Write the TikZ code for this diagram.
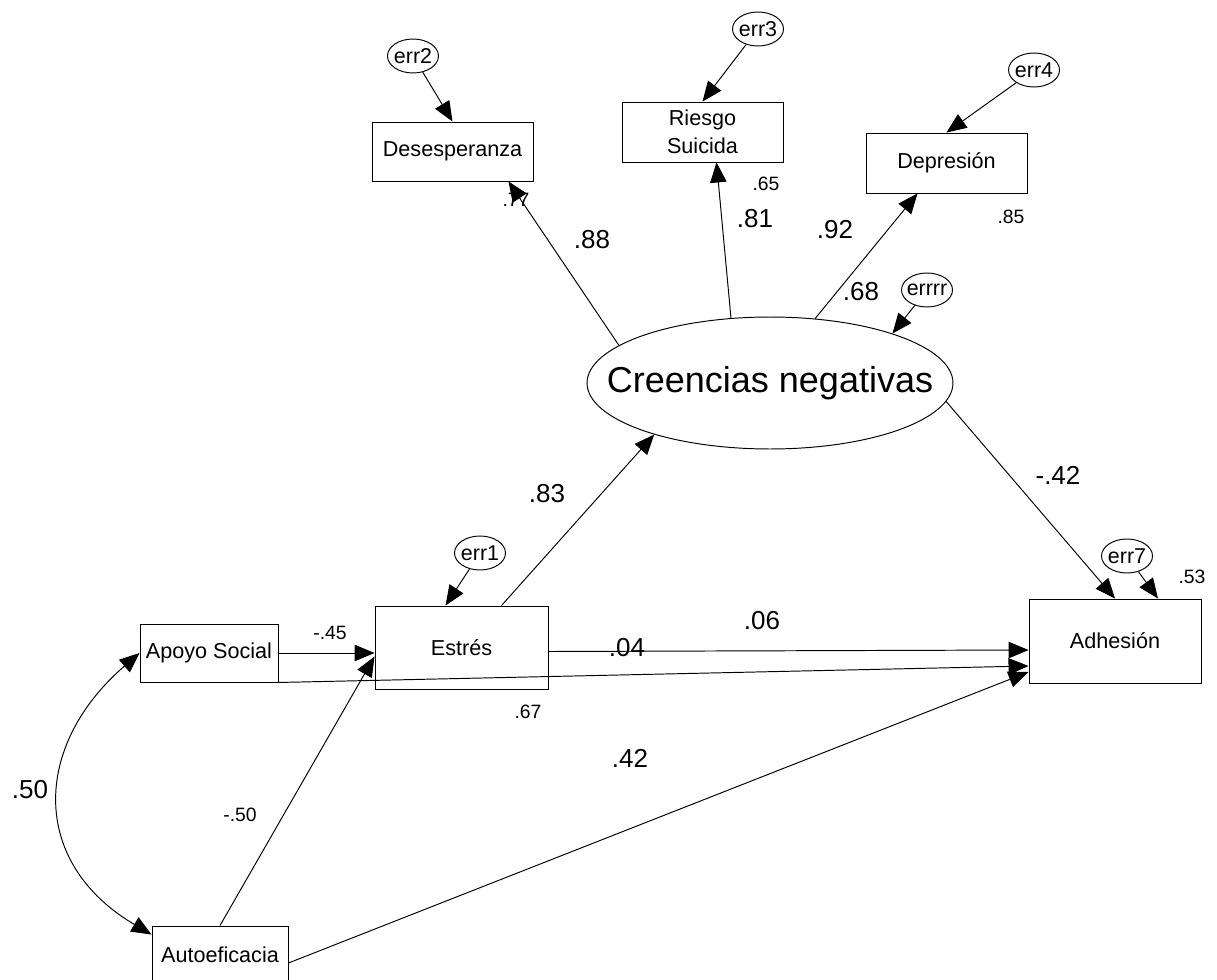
\documentclass[tikz,border=0pt]{standalone}
\usepackage{fontspec}
\setmainfont{Liberation Sans}
\usetikzlibrary{arrows.meta,shapes.geometric,calc}
\tikzset{
  sem/.style={x=0.02cm, y=-0.02cm, line width=0.55pt, >={Triangle[length=4mm,width=3.3mm]}},
  obs/.style={draw, rectangle, inner sep=2pt, align=center, font=\fontsize{12.3}{16}\selectfont},
  lat/.style={draw, ellipse, inner sep=0pt, minimum width=7.32cm, minimum height=2.64cm, font=\fontsize{20.5}{24}\selectfont},
  errv/.style={draw, ellipse, inner sep=0pt, minimum width=1.02cm, minimum height=0.68cm, font=\fontsize{12.2}{14}\selectfont},
  reg/.style={->},
  cov/.style={<->},
  bignum/.style={inner sep=0pt, font=\fontsize{14.8}{17}\selectfont},
  smallnum/.style={inner sep=0pt, font=\fontsize{11}{13}\selectfont}
}
\newcommand{\etxt}[1]{\makebox[0pt]{#1}}

\begin{document}
\begin{tikzpicture}[sem]
\useasboundingbox (0,0) rectangle (1217,980);
% observed variables
\node[obs, minimum width=3.22cm, minimum height=1.18cm] (des) at (452.5,151.5) {Desesperanza};
\node[obs, minimum width=3.22cm, minimum height=1.2cm] (ris) at (702.5,132) {Riesgo\\Suicida};
\node[obs, minimum width=3.22cm, minimum height=1.2cm] (dep) at (946.5,163) {Depresión};
\node[obs, minimum width=3.46cm, minimum height=1.66cm] (est) at (461.5,647.5) {Estrés};
\node[obs, minimum width=2.76cm, minimum height=1.16cm] (apo) at (209,653) {Apoyo Social};
\node[obs, minimum width=3.44cm, minimum height=1.68cm] (adh) at (1115,641) {Adhesión};
\node[obs, minimum width=2.72cm, minimum height=1.16cm] (aut) at (220,955) {Autoeficacia};
% latent variable
\node[lat] (cn) at (770,383) {\etxt{Creencias negativas}};
% error terms
\node[errv] (err2) at (413,56) {\etxt{err2}};
\node[errv] (err3) at (758,29) {\etxt{err3}};
\node[errv] (err4) at (1034,70) {\etxt{err4}};
\node[errv] (errrr) at (927,290) {\etxt{errrr}};
\node[errv] (err1) at (480,553) {\etxt{err1}};
\node[errv] (err7) at (1127,556) {\etxt{err7}};

% errors
\draw[reg] (err2) -- (des.north);
\draw[reg] (err3) -- (ris.north);
\draw[reg] (err4) -- (dep.north);
\draw[reg] (errrr) -- (cn.22);
\draw[reg] (err1) -- ($(est.north)+(-16,0)$);
\draw[reg] (err7) -- ($(adh.north)+(43,0)$);
% measurement part
\draw[reg] (cn.166) -- ($(des.south)+(56,0)$);
\draw[reg] (cn.121) -- ($(ris.south)+(14,0)$);
\draw[reg] (cn.55) -- ($(dep.south)+(-29,0)$);
% structural part
\draw[reg] ($(est.north)+(40,0)$) -- (cn.204);
\draw[reg] (cn.-6) -- (adh.north);
\draw[reg] (apo.east) -- (apo.east -| est.west);
\draw[reg] (aut.north) -- ($(est.west)+(0,9)$);
\draw[reg] ($(est.east)+(0,4)$) -- ($(adh.west)+(0,9)$);
\draw[reg] (apo.south east) -- ($(adh.west)+(0,25)$);
\draw[reg] ($(aut.east)+(0,8)$) -- ($(adh.west)+(0,31)$);
\draw[cov] (apo.west) .. controls (32,746) and (30,863) .. ($(aut.north west)+(0,9)$);

% estimates
\node[smallnum] (r77) at (516,200) {.77};
\node[smallnum] (r65) at (766,184) {.65};
\node[smallnum] (r85) at (1011,217) {.85};
\node[smallnum] (r53) at (1192,577) {.53};
\node[smallnum] (r67) at (528,712) {.67};
\node[smallnum] (wa) at (330,633) {-.45};
\node[smallnum] (wb) at (240,815) {-.50};
\node[bignum] (wc) at (592,240) {.88};
\node[bignum] (wd) at (755,219) {.81};
\node[bignum] (we) at (835,230) {.92};
\node[bignum] (r68) at (861,292) {.68};
\node[bignum] (wf) at (547,494) {.83};
\node[bignum] (wg) at (1058,475) {-.42};
\node[bignum] (wh) at (762,621) {.06};
\node[bignum] (wi) at (627,648) {.04};
\node[bignum] (wj) at (630,758) {.42};
\node[bignum] (wk) at (30,790) {.50};
\end{tikzpicture}
\end{document}
